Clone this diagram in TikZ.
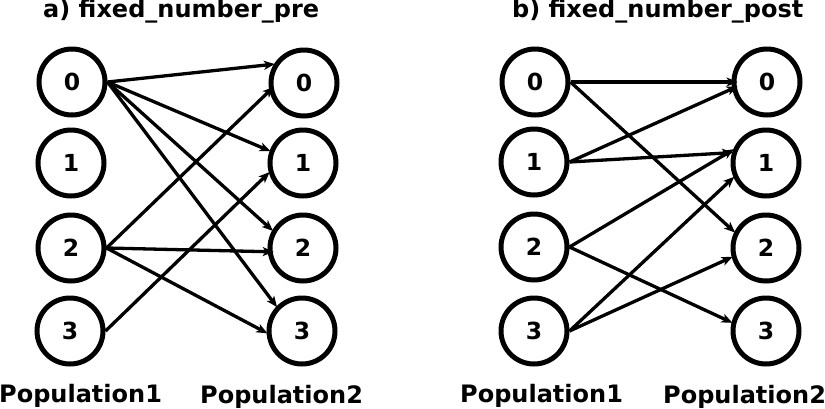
\documentclass[tikz,border=0pt]{standalone}
\usepackage{fontspec}
\setmainfont{DejaVu Sans}
\usetikzlibrary{arrows.meta}
\begin{document}
\begin{tikzpicture}[x=1pt,y=-1pt,
  neuron/.style={circle,draw,line width=5pt,minimum size=66pt,inner sep=0pt,font=\fontsize{23.5}{27}\selectfont\bfseries},
  conn/.style={line width=3.3pt,-{Stealth[length=11pt,width=9pt,inset=3pt]},shorten >=-1pt},
  deep/.style={shorten >=-6pt},
  lab/.style={anchor=base west,inner sep=0pt,font=\fontsize{24}{28}\selectfont\bfseries}]
\useasboundingbox (0,0) rectangle (825,408);
% titles
\node[lab] (ta) at (43,17) {a) fixed\_number\_pre};
\node[lab] (tb) at (512,17) {b) fixed\_number\_post};
% population labels
\node[lab] (la1) at (-1,402) {Population1};
\node[lab] (la2) at (200,403) {Population2};
\node[lab] (lb1) at (460,402) {Population1};
\node[lab] (lb2) at (663,403) {Population2};
% panel a
\node[neuron] (a0) at (72,82) {0};
\node[neuron] (a1) at (71,163) {1};
\node[neuron] (a2) at (71,248) {2};
\node[neuron] (a3) at (70,331) {3};
\node[neuron] (b0) at (304,83) {0};
\node[neuron] (b1) at (303,163) {1};
\node[neuron] (b2) at (303,248) {2};
\node[neuron] (b3) at (302,331) {3};
% panel b
\node[neuron] (c0) at (535,82) {0};
\node[neuron] (c1) at (534,162) {1};
\node[neuron] (c2) at (534,247) {2};
\node[neuron] (c3) at (534,331) {3};
\node[neuron] (d0) at (767,82) {0};
\node[neuron] (d1) at (766,163) {1};
\node[neuron] (d2) at (766,248) {2};
\node[neuron] (d3) at (766,331) {3};
% connections a
\draw[conn] (a0.east) -- (b0.148);
\draw[conn] (a0.east) -- (b1.160);
\draw[conn] (a0.east) -- (b2.150);
\draw[conn] (a0.east) -- (b3.136);
\draw[conn,deep] (a2.east) -- (b0.193);
\draw[conn,deep] (a2.east) -- (b2.186);
\draw[conn] (a2.east) -- (b3.183);
\draw[conn] (a3.east) -- (b1.196);
% connections b
\draw[conn,deep] (c0.east) -- (d0.west);
\draw[conn] (c0.east) -- (d2.153);
\draw[conn,deep] (c1.east) -- (d0.191);
\draw[conn] (c1.east) -- (d1.163);
\draw[conn] (c2.east) -- (d1.158);
\draw[conn] (c2.east) -- (d3.166);
\draw[conn] (c3.east) -- (d1.204);
\draw[conn] (c3.east) -- (d2.195);
\end{tikzpicture}
\end{document}
